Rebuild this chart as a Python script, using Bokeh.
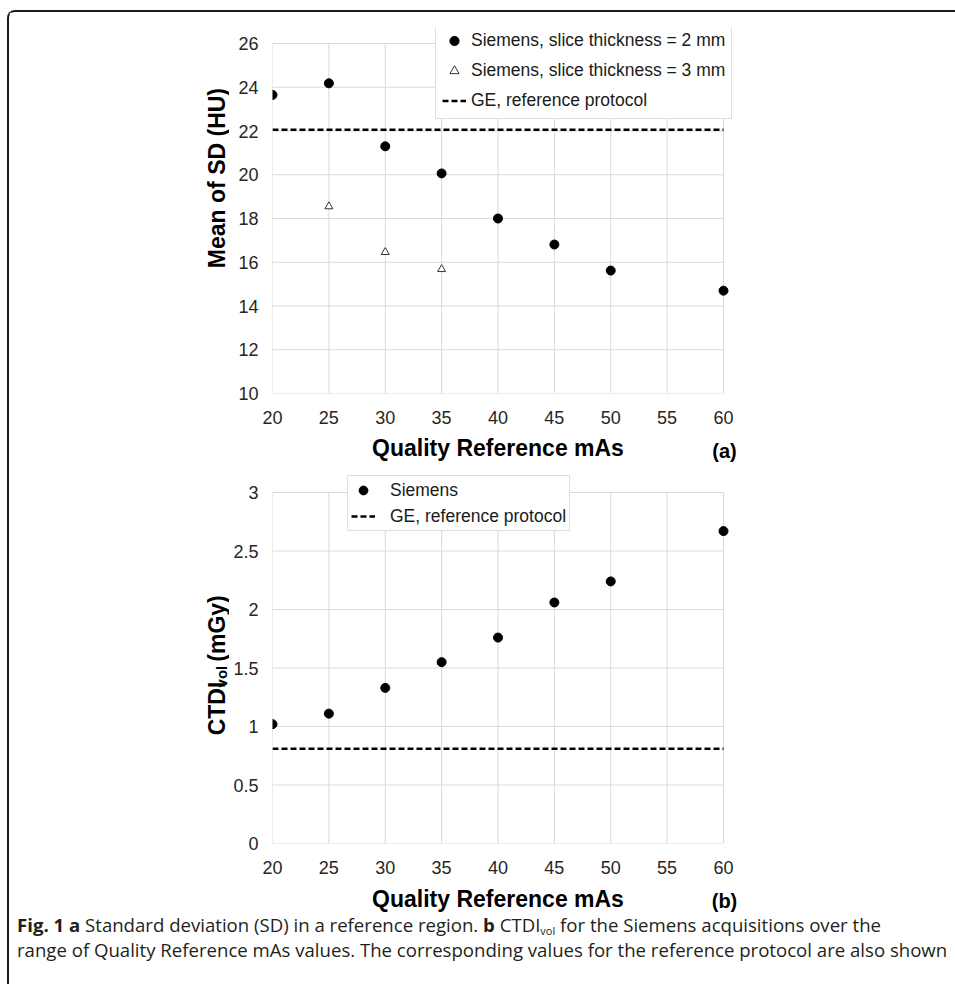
import math
from bokeh.plotting import figure
from bokeh.layouts import column, row
from bokeh.models import Range1d, FixedTicker, Legend, LegendItem, Div
from bokeh.core.properties import value
from bokeh.embed import file_html
from bokeh.resources import INLINE

# ---------------- data ----------------
qref_ticks = [20, 25, 30, 35, 40, 45, 50, 55, 60]
qref = [20, 25, 30, 35, 40, 45, 50, 60]
sd_2mm = [23.65, 24.18, 21.30, 20.06, 18.00, 16.81, 15.62, 14.70]
qref_3mm = [25, 30, 35]
sd_3mm = [18.55, 16.46, 15.68]
sd_ge = 22.06
sd_ticks = [10, 12, 14, 16, 18, 20, 22, 24, 26]

ctdi = [1.02, 1.11, 1.33, 1.55, 1.76, 2.06, 2.24, 2.67]
ctdi_ge = 0.81
ctdi_ticks = [0, 0.5, 1, 1.5, 2, 2.5, 3]
ctdi_tick_labels = ["0", "0.5", "1", "1.5", "2", "2.5", "3"]

FONT = "Liberation Sans"
TXT = "#1a1a1a"
GRID = "#d9d9d9"

W_TOTAL = 946
W_LAB = 220
W_PLOT = W_TOTAL - W_LAB
BORDER_L = 43
FRAME_W = 466          # frame reaches a bit past the last tick so the legend fits
PX_PER_X = 451 / (qref_ticks[-1] - qref_ticks[0])


def style(p, yticks):
    p.outline_line_color = None
    p.xgrid.visible = False
    p.ygrid.visible = False
    for ax in (p.xaxis, p.yaxis):
        ax.axis_line_color = None
        ax.major_tick_line_color = None
        ax.minor_tick_line_color = None
        ax.major_tick_out = 0
        ax.major_tick_in = 0
        ax.minor_tick_out = 0
        ax.major_label_text_font = FONT
        ax.major_label_text_font_size = "18px"
        ax.major_label_text_color = "#262626"
    p.xaxis.ticker = FixedTicker(ticks=qref_ticks)
    p.yaxis.ticker = FixedTicker(ticks=yticks)
    p.xaxis.major_label_standoff = 17
    p.yaxis.major_label_standoff = 14
    # grid lines limited to the tick spans (Excel-style plot area)
    n = len(qref_ticks)
    p.segment(x0=qref_ticks, y0=[yticks[0]] * n, x1=qref_ticks,
              y1=[yticks[-1]] * n, line_color=GRID, line_width=1)
    m = len(yticks)
    p.segment(x0=[qref_ticks[0]] * m, y0=yticks, x1=[qref_ticks[-1]] * m,
              y1=yticks, line_color=GRID, line_width=1)


def legend_style(lg):
    lg.border_line_color = "#bfbfbf"
    lg.border_line_width = 1
    lg.background_fill_color = "white"
    lg.background_fill_alpha = 1
    lg.label_text_font = FONT
    lg.label_text_font_size = "17.5px"
    lg.label_text_color = TXT
    lg.margin = 0
    lg.glyph_width = 24


def helper(width, height):
    return figure(width=width, height=height, output_backend="svg",
                  toolbar_location=None, x_axis_type=None, y_axis_type=None,
                  x_range=Range1d(0, width), y_range=Range1d(height, 0),
                  min_border=0, outline_line_color=None)


x0, x1 = qref_ticks[0], qref_ticks[-1]
x_end = x0 + FRAME_W / PX_PER_X

# ---------------- panel (a) ----------------
ppu_a = 350 / (sd_ticks[-1] - sd_ticks[0])
pa = figure(width=W_PLOT, height=423, output_backend="svg", toolbar_location=None,
            x_range=Range1d(x0, x_end),
            y_range=Range1d(sd_ticks[0], sd_ticks[0] + 366 / ppu_a),
            min_border_left=BORDER_L, min_border_right=W_PLOT - BORDER_L - FRAME_W,
            min_border_top=15, min_border_bottom=42)
style(pa, sd_ticks)
r_ge_a = pa.line([x0, x1], [sd_ge, sd_ge], line_color="black", line_width=2.6,
                 line_dash="6 3")
r_2 = pa.scatter(qref, sd_2mm, marker="circle", size=9, fill_color="black",
                 line_color="black")
r_3 = pa.scatter(qref_3mm, sd_3mm, marker="triangle", size=8, fill_color="white",
                 line_color="#333333", line_width=1)
lga = Legend(items=[
    LegendItem(label="Siemens, slice thickness = 2 mm", renderers=[r_2]),
    LegendItem(label="Siemens, slice thickness = 3 mm", renderers=[r_3]),
    LegendItem(label="GE, reference protocol", renderers=[r_ge_a]),
], location=(163, 274))
legend_style(lga)
lga.padding = 6
lga.label_standoff = 5
lga.glyph_height = 23
lga.label_height = 23
lga.spacing = 7
pa.add_layout(lga)

ylab_a = helper(W_LAB, 423)
ylab_a.text(x=[207], y=[174], text=["Mean of SD (HU)"], angle=math.pi / 2,
            text_font=value(FONT), text_font_style="bold", text_font_size="23px",
            text_align="center", text_baseline="middle", text_color="#000000")

xlab_a = helper(W_TOTAL, 35)
xlab_a.text(x=[488.5], y=[12], text=["Quality Reference mAs"],
            text_font=value(FONT), text_font_style="bold", text_font_size="23px",
            text_align="center", text_baseline="middle", text_color="#000000")
xlab_a.text(x=[715], y=[15], text=["(a)"], text_font=value(FONT),
            text_font_style="bold", text_font_size="20px", text_align="center",
            text_baseline="middle", text_color="#000000")

# ---------------- panel (b) ----------------
ppu_b = 351 / (ctdi_ticks[-1] - ctdi_ticks[0])
pb = figure(width=W_PLOT, height=415, output_backend="svg", toolbar_location=None,
            x_range=Range1d(x0, x_end),
            y_range=Range1d(ctdi_ticks[0], ctdi_ticks[0] + 368 / ppu_b),
            min_border_left=BORDER_L, min_border_right=W_PLOT - BORDER_L - FRAME_W,
            min_border_top=5, min_border_bottom=42)
style(pb, ctdi_ticks)
pb.yaxis.major_label_overrides = dict(zip(ctdi_ticks, ctdi_tick_labels))
r_ge_b = pb.line([x0, x1], [ctdi_ge, ctdi_ge], line_color="black", line_width=2.6,
                 line_dash="6 3")
r_s = pb.scatter(qref, ctdi, marker="circle", size=9, fill_color="black",
                 line_color="black")
lgb = Legend(items=[
    LegendItem(label="Siemens", renderers=[r_s]),
    LegendItem(label="GE, reference protocol", renderers=[r_ge_b]),
], location=(75, 312))
legend_style(lgb)
lgb.padding = 3
lgb.label_standoff = 15
lgb.glyph_height = 22
lgb.label_height = 22
lgb.spacing = 4
pb.add_layout(lgb)

# rotated y-axis title with subscript: CTDI_vol (mGy)
ylab_b = helper(W_LAB, 415)
y_start = 293
ylab_b.text(x=[207], y=[y_start], text=["CTDI"], angle=math.pi / 2,
            text_font=value(FONT), text_font_style="bold", text_font_size="23px",
            text_align="left", text_baseline="middle", text_color="#000000")
ylab_b.text(x=[212], y=[y_start - 54], text=["vol"], angle=math.pi / 2,
            text_font=value(FONT), text_font_style="bold", text_font_size="15px",
            text_align="left", text_baseline="middle", text_color="#000000")
ylab_b.text(x=[207], y=[y_start - 83], text=["(mGy)"], angle=math.pi / 2,
            text_font=value(FONT), text_font_style="bold", text_font_size="23px",
            text_align="left", text_baseline="middle", text_color="#000000")

xlab_b = helper(W_TOTAL, 27)
xlab_b.text(x=[488.5], y=[13], text=["Quality Reference mAs"],
            text_font=value(FONT), text_font_style="bold", text_font_size="23px",
            text_align="center", text_baseline="middle", text_color="#000000")
xlab_b.text(x=[715], y=[15], text=["(b)"], text_font=value(FONT),
            text_font_style="bold", text_font_size="20px", text_align="center",
            text_baseline="middle", text_color="#000000")

# ---------------- caption ----------------
cap = Div(width=W_TOTAL, height=67, text=(
    "<div style=\"font-family:'Open Sans',sans-serif;font-size:18.6px;"
    "line-height:25px;color:#231f20;white-space:nowrap;padding-left:3px;"
    "margin:-5px 0 0 0;\">"
    "<b>Fig. 1</b> <b>a</b> Standard deviation (SD) in a reference region. "
    "<b>b</b> CTDI<sub style=\"font-size:11px;line-height:0;vertical-align:-3px\">vol</sub>"
    " for the Siemens acquisitions over the<br>"
    "range of Quality Reference mAs values. The corresponding values for the "
    "reference protocol are also shown</div>"))

layout = column(row(ylab_a, pa, spacing=0), xlab_a,
                row(ylab_b, pb, spacing=0), xlab_b, cap, spacing=0,
                styles={"border": "2px solid #1a1a1a", "border-right": "none",
                        "border-radius": "8px 0 0 8px", "margin-top": "10px",
                        "margin-left": "7px"})

open("out.html", "w").write(file_html(layout, INLINE))
